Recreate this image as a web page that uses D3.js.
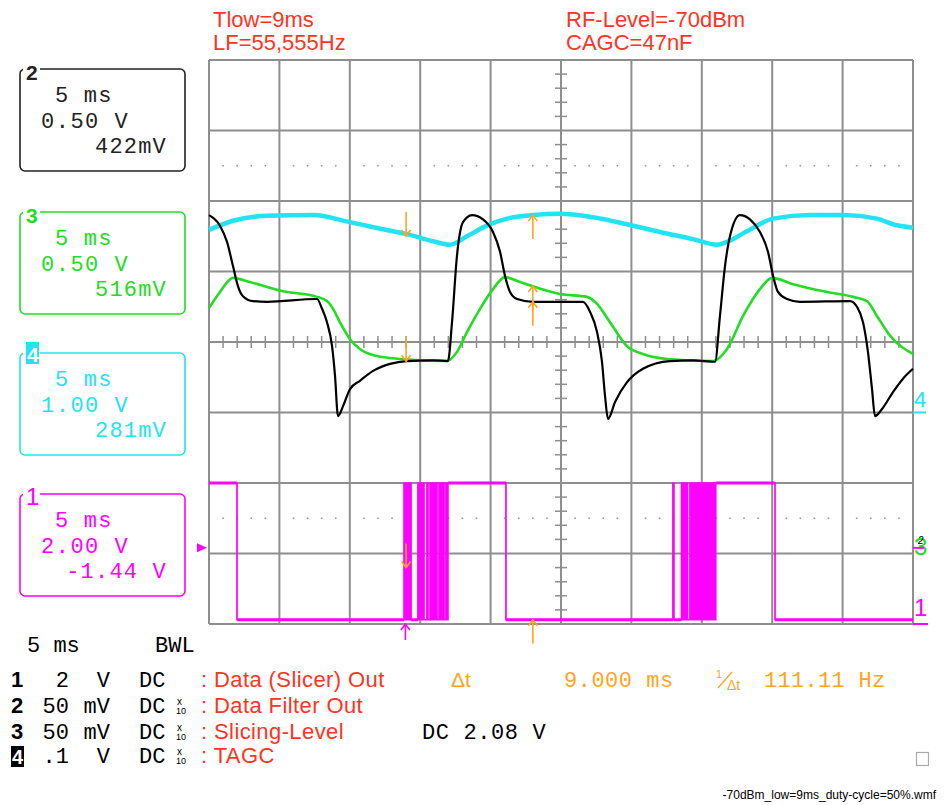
<!DOCTYPE html>
<html>
<head>
<meta charset="utf-8">
<script src="https://cdn.jsdelivr.net/npm/d3@7"></script>
<style>
body { margin: 0; background: #fff; }
svg { display: block; }
</style>
</head>
<body>
<svg id="scope" width="946" height="805"></svg>
<script>
// Time in ms (5 ms/div, 10 div), level in divisions (0 = screen centre)

// Ch4 TAGC (cyan)
var tagc = [[0,1.59],[1.70,1.72],[4.12,1.79],[7.39,1.80],[10.01,1.70],[12.36,1.60],[14.06,1.53],
	[15.91,1.43],[17.12,1.38],[18.32,1.50],[19.74,1.65],[21.16,1.75],[23.01,1.80],[24.93,1.82],
	[27.27,1.77],[29.69,1.67],[32.03,1.56],[34.37,1.46],[36.08,1.38],[36.79,1.42],[38.21,1.57],
	[40.06,1.75],[42.68,1.80],[45.03,1.80],[47.44,1.75],[48.58,1.67],[50,1.62]];

// Ch2 Data Filter Out (black)
var filterOut = [[0,1.80],[0.78,1.65],[1.28,1.42],[1.70,1.08],[2.06,0.79],[2.41,0.65],[3.13,0.58],
	[4.12,0.57],[7.67,0.61],[8.03,0.47],[8.38,0.28],[8.74,-0.06],[8.95,-0.48],[9.16,-1.05],
	[9.52,-0.91],[10.01,-0.67],[10.72,-0.55],[11.65,-0.41],[12.86,-0.31],[14.06,-0.27],
	[15.91,-0.26],[16.97,-0.27],[17.26,0.28],[17.61,1.22],[18.04,1.70],[18.68,1.80],[19.46,1.74],
	[20.17,1.56],[20.67,1.28],[21.02,0.94],[21.38,0.71],[21.88,0.61],[23.01,0.57],[26.56,0.57],
	[27.06,0.43],[27.56,0.14],[27.91,-0.28],[28.13,-0.77],[28.34,-1.09],[28.84,-0.85],
	[29.69,-0.57],[30.82,-0.38],[32.74,-0.27],[34.38,-0.26],[35.94,-0.28],[36.29,0.37],
	[36.65,1.08],[37.00,1.50],[37.71,1.80],[38.42,1.74],[39.13,1.56],[39.70,1.28],[40.06,0.94],
	[40.41,0.71],[41.05,0.61],[41.97,0.57],[45.53,0.58],[46.02,0.50],[46.45,0.28],[46.80,-0.14],
	[47.09,-0.67],[47.30,-1.05],[47.80,-0.95],[48.58,-0.71],[49.29,-0.52],[50,-0.38]];

// Ch3 Slicing-Level (green)
var slicingLevel = [[0,0.48],[0.78,0.71],[1.70,0.91],[2.91,0.85],[5.26,0.72],[7.67,0.64],[8.38,0.58],
	[8.81,0.47],[9.30,0.28],[10.01,0.04],[10.72,-0.10],[11.93,-0.20],[13.57,-0.24],[16.90,-0.27],
	[17.61,-0.14],[18.32,0.14],[19.25,0.47],[20.17,0.75],[21.02,0.92],[22.09,0.85],[24.93,0.68],
	[26.85,0.64],[27.56,0.54],[28.48,0.28],[29.69,-0.06],[30.82,-0.17],[32.53,-0.24],[35.80,-0.27],
	[36.79,-0.10],[37.93,0.37],[39.13,0.75],[39.99,0.91],[41.48,0.82],[43.89,0.71],[45.74,0.64],
	[46.73,0.58],[47.44,0.37],[48.37,0.09],[50,-0.17]];

// Ch1 Data (Slicer) Out (magenta): starts high, toggles at each edge time
var slicerHigh = -2.0, slicerLow = -3.94;
var slicerEdges = [1.99,
	13.85, 13.96, 14.06, 14.13, 14.24, 14.35,
	14.84, 14.95, 15.02, 15.09, 15.20, 15.27, 15.48, 15.55, 15.70, 15.77, 15.84, 15.91,
	15.98, 16.05, 16.12, 16.19, 16.34, 16.41, 16.48, 16.55, 16.62, 16.69, 16.83, 16.90,
	16.97, 21.09,
	32.95, 33.02, 33.56, 33.63, 33.74, 33.81, 33.91, 33.98, 34.16, 34.23, 34.30, 34.38,
	34.45, 34.52, 34.59, 34.66, 34.73, 34.80, 34.87, 34.94, 35.01, 35.08, 35.15, 35.22,
	35.29, 35.36, 35.43, 35.50, 35.57, 35.64, 35.71, 35.78, 35.85, 35.92, 35.99, 40.20];

// Cursors, trigger, channel ground markers
var cursorTimes = [14.0, 23.0];
var cursorCh1Level = -3.2;
var triggerTime = 13.95, triggerLevel = -2.92;
var groundCh4 = -1.0, groundCh23 = -2.92, groundCh1 = -3.97;

// Header and readouts
var headerLeft = ['Tlow=9ms', 'LF=55,555Hz'];
var headerRight = ['RF-Level=-70dBm', 'CAGC=47nF'];
var panelCh = ['2', '3', '4', '1'];
var panelTime = ['5 ms', '5 ms', '5 ms', '5 ms'];
var panelVolts = ['0.50 V', '0.50 V', '1.00 V', '2.00 V'];
var panelOffset = ['422mV', '516mV', '281mV', '-1.44 V'];
var chanNum = ['1', '2', '3', '4'];
var chanScale = ['2', '50', '50', '.1'];
var chanUnit = ['V', 'mV', 'mV', 'V'];
var chanCoupling = ['DC', 'DC', 'DC', 'DC'];
var chanProbe = [false, true, true, true];
var chanName = ['Data (Slicer) Out', 'Data Filter Out', 'Slicing-Level', 'TAGC'];

var RED = '#ff3322', ORANGE = '#ffa41f', MAG = '#ff00ff', CYAN = '#22e3f2', GREEN = '#22dd22';
var SANS = "'Liberation Sans', Arial, sans-serif";
var MONO = "'Liberation Mono', 'DejaVu Sans Mono', monospace";

var svg = d3.select('#scope');
var X = d3.scaleLinear().domain([0, 50]).range([209, 913]);
var Y = d3.scaleLinear().domain([-4, 4]).range([624, 60]);

function txt(x, y, s, color, font, size, extra) {
	var t = svg.append('text').attr('x', x).attr('y', y).text(s)
		.attr('fill', color).attr('font-family', font).attr('font-size', size);
	if (extra) for (var k in extra) t.attr(k, extra[k]);
	return t;
}

// Grid
var grid = svg.append('g').attr('stroke', '#8e8e8e').attr('stroke-width', 2);
d3.range(0, 51, 5).forEach(function(t) {
	grid.append('line').attr('x1', X(t)).attr('x2', X(t)).attr('y1', Y(4)).attr('y2', Y(-4));
});
d3.range(-4, 5, 1).forEach(function(v) {
	grid.append('line').attr('x1', X(0)).attr('x2', X(50)).attr('y1', Y(v)).attr('y2', Y(v));
});
// minor ticks on centre axes
var ticks = svg.append('g').attr('stroke', '#8e8e8e').attr('stroke-width', 1.5);
d3.range(1, 50, 1).filter(function(t) { return t % 5 !== 0; }).forEach(function(t) {
	ticks.append('line').attr('x1', X(t)).attr('x2', X(t)).attr('y1', Y(0) - 6).attr('y2', Y(0) + 6);
});
d3.range(-4, 4.01, 0.2).filter(function(v) { return Math.abs(v - Math.round(v)) > 0.01; }).forEach(function(v) {
	ticks.append('line').attr('x1', X(25) - 6).attr('x2', X(25) + 6).attr('y1', Y(v)).attr('y2', Y(v));
});
// dotted lines
[2.5, -2.5].forEach(function(v) {
	d3.range(1, 50, 1).filter(function(t) { return t % 5 !== 0; }).forEach(function(t) {
		svg.append('rect').attr('x', X(t) - 0.8).attr('y', Y(v) - 0.8)
			.attr('width', 1.6).attr('height', 1.6).attr('fill', '#999');
	});
});

// Traces
var line = d3.line().x(function(d) { return X(d[0]); }).y(function(d) { return Y(d[1]); })
	.curve(d3.curveMonotoneX);
svg.append('path').attr('d', line(tagc)).attr('fill', 'none').attr('stroke', CYAN).attr('stroke-width', 4.5);
svg.append('path').attr('d', line(slicingLevel)).attr('fill', 'none').attr('stroke', GREEN).attr('stroke-width', 2.6);
svg.append('path').attr('d', line(filterOut)).attr('fill', 'none').attr('stroke', '#000').attr('stroke-width', 2.2);

var slicerPts = [[0, slicerHigh]];
var lvl = slicerHigh;
slicerEdges.forEach(function(t) {
	slicerPts.push([t, lvl]);
	lvl = (lvl === slicerHigh) ? slicerLow : slicerHigh;
	slicerPts.push([t, lvl]);
});
slicerPts.push([50, lvl]);
var stepLine = d3.line().x(function(d) { return X(d[0]); }).y(function(d) { return Y(d[1]); });
svg.append('path').attr('d', stepLine(slicerPts)).attr('fill', 'none').attr('stroke', MAG)
	.attr('stroke-width', 1.7).attr('stroke-linejoin', 'miter');
// level segments look thicker on the scope (noise)
[slicerHigh, slicerLow].forEach(function(v) {
	var segs = [], cur = slicerHigh, start = 0;
	slicerEdges.concat([50]).forEach(function(t) {
		if (cur === v && t - start > 0.3) segs.push([start, t]);
		cur = (cur === slicerHigh) ? slicerLow : slicerHigh;
		start = t;
	});
	segs.forEach(function(s) {
		svg.append('line').attr('x1', X(s[0])).attr('x2', X(s[1])).attr('y1', Y(v)).attr('y2', Y(v))
			.attr('stroke', MAG).attr('stroke-width', 3);
	});
});

// Cursor arrows
function valueAt(data, t) {
	var i = d3.bisector(function(d) { return d[0]; }).left(data, t);
	if (i <= 0) return data[0][1];
	var a = data[i - 1], b = data[i];
	return a[1] + (b[1] - a[1]) * (t - a[0]) / (b[0] - a[0]);
}
function arrow(t, v, dir, color, len) {
	var x = X(t), y = Y(v), l = len || 24;
	var g = svg.append('g').attr('stroke', color).attr('stroke-width', 1.6).attr('fill', 'none');
	var tail = dir === 'down' ? y - l : y + l;
	var hy = dir === 'down' ? y - 6 : y + 6;
	g.append('line').attr('x1', x).attr('x2', x).attr('y1', tail).attr('y2', y);
	g.append('path').attr('d', 'M' + (x - 4.5) + ',' + hy + 'L' + x + ',' + y + 'L' + (x + 4.5) + ',' + hy);
}
arrow(cursorTimes[0], valueAt(tagc, cursorTimes[0]) - 0.03, 'down', ORANGE);
arrow(cursorTimes[0], valueAt(filterOut, cursorTimes[0]), 'down', ORANGE);
arrow(cursorTimes[0], cursorCh1Level, 'down', ORANGE);
arrow(cursorTimes[1], valueAt(tagc, cursorTimes[1]), 'up', ORANGE);
arrow(cursorTimes[1], valueAt(slicingLevel, cursorTimes[1]), 'up', ORANGE);
arrow(cursorTimes[1], valueAt(filterOut, cursorTimes[1]), 'up', ORANGE);
arrow(cursorTimes[1], slicerLow, 'up', ORANGE);
arrow(triggerTime, -4, 'up', MAG, 16);

// trigger level triangle
svg.append('path').attr('fill', MAG)
	.attr('d', 'M197,' + (Y(triggerLevel) - 4.5) + 'L207,' + Y(triggerLevel) + 'L197,' + (Y(triggerLevel) + 4.5) + 'Z');

// Right-side channel markers
txt(914, Y(groundCh4) - 6, '4', CYAN, SANS, 22);
svg.append('line').attr('x1', 913).attr('x2', 926).attr('y1', Y(groundCh4)).attr('y2', Y(groundCh4))
	.attr('stroke', CYAN).attr('stroke-width', 2);
txt(914, Y(groundCh23) + 7, '3', GREEN, SANS, 24);
txt(918, Y(groundCh23) - 4, '2', '#000', SANS, 10, {'font-style': 'italic'});
svg.append('line').attr('x1', 913).attr('x2', 924).attr('y1', Y(groundCh23)).attr('y2', Y(groundCh23))
	.attr('stroke', MAG).attr('stroke-width', 2);
txt(914, Y(groundCh1) - 6, '1', MAG, SANS, 24);
svg.append('line').attr('x1', 913).attr('x2', 928).attr('y1', Y(-4)).attr('y2', Y(-4))
	.attr('stroke', MAG).attr('stroke-width', 2);

// Header text
headerLeft.forEach(function(s, i) { txt(213, 27 + i * 23, s, RED, SANS, 22); });
headerRight.forEach(function(s, i) { txt(566, 27 + i * 23, s, RED, SANS, 22); });

// Channel panels
var panelColor = ['#222', GREEN, CYAN, MAG];
var panelTop = [69, 212, 353, 494];
panelCh.forEach(function(ch, i) {
	var top = panelTop[i], c = panelColor[i];
	svg.append('rect').attr('x', 20).attr('y', top).attr('width', 165).attr('height', 102)
		.attr('rx', 5).attr('fill', 'none').attr('stroke', c).attr('stroke-width', 1.6);
	svg.append('rect').attr('x', 23).attr('y', top - 8).attr('width', 17).attr('height', 20).attr('fill', '#fff');
	if (ch === '4') {
		svg.append('rect').attr('x', 26).attr('y', top - 11).attr('width', 13).attr('height', 22).attr('fill', c);
		txt(27, top + 9, ch, '#fff', SANS, 21, {'font-weight': 'bold'});
	} else {
		txt(26, top + 11, ch, c, SANS, ch === '1' ? 24 : 21, {'font-weight': ch === '1' ? 'normal' : 'bold'});
	}
	txt(55, top + 33, panelTime[i], c, MONO, 22, {'letter-spacing': 1.2});
	txt(41, top + 59, panelVolts[i], c, MONO, 22, {'letter-spacing': 1.5});
	txt(167, top + 84, panelOffset[i], c, MONO, 22, {'letter-spacing': 1.2, 'text-anchor': 'end'});
});

// Bottom readout
txt(27, 652, '5 ms', '#000', MONO, 22);
txt(155, 652, 'BWL', '#000', MONO, 22);
var rowY = [687, 713, 739, 763];
chanNum.forEach(function(n, i) {
	var y = rowY[i];
	if (n === '4') {
		svg.append('rect').attr('x', 11).attr('y', y - 17).attr('width', 13).attr('height', 21).attr('fill', '#000');
		txt(12, y + 1, n, '#fff', SANS, 20, {'font-weight': 'bold'});
	} else {
		txt(11, y, n, '#000', SANS, 22, {'font-weight': 'bold'});
	}
	txt(69, y, chanScale[i], '#000', MONO, 22, {'text-anchor': 'end'});
	txt(110, y, chanUnit[i], '#000', MONO, 22, {'text-anchor': 'end'});
	txt(139, y, chanCoupling[i], '#000', MONO, 22);
	if (chanProbe[i]) {
		txt(177, y - 8, 'x', '#000', SANS, 10);
		txt(176, y + 1, '10', '#000', SANS, 9);
	}
	txt(201, y, ': ' + chanName[i], RED, SANS, 22, {'letter-spacing': 0.4});
});

// Cursor readout
txt(451, 687, '\u0394t', ORANGE, SANS, 21);
txt(564, 687, '9.000 ms', ORANGE, MONO, 22, {'letter-spacing': 0.5});
txt(716, 678, '1', ORANGE, SANS, 11);
svg.append('line').attr('x1', 718).attr('y1', 688).attr('x2', 732).attr('y2', 672)
	.attr('stroke', ORANGE).attr('stroke-width', 1.4);
txt(727, 690, '\u0394t', ORANGE, SANS, 14);
txt(764, 687, '111.11 Hz', ORANGE, MONO, 22, {'letter-spacing': 0.3});
txt(422, 739, 'DC 2.08 V', '#000', MONO, 22, {'letter-spacing': 0.6});

svg.append('rect').attr('x', 916.5).attr('y', 752.5).attr('width', 12).attr('height', 13)
	.attr('fill', 'none').attr('stroke', '#aaa').attr('stroke-width', 1.2);

txt(936, 799, '-70dBm_low=9ms_duty-cycle=50%.wmf', '#000', SANS, 12, {'text-anchor': 'end'});
</script>
</body>
</html>
